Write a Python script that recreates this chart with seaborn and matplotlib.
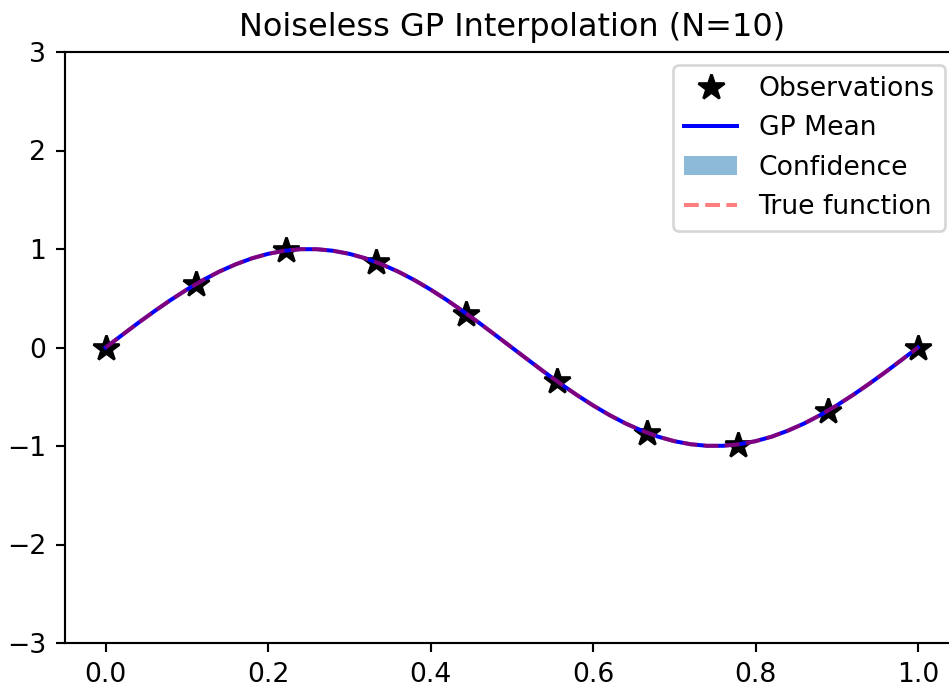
import matplotlib
matplotlib.use("Agg")
import matplotlib.pyplot as plt
import seaborn as sns

# observations (N=10)
obs_x = [0.0, 0.111, 0.222, 0.333, 0.444, 0.556, 0.667, 0.778, 0.889, 1.0]
obs_y = [0.0, 0.643, 0.985, 0.866, 0.342, -0.342, -0.866, -0.985, -0.643, 0.0]

# curve read at x step 0.02
curve_x = [round(0.02 * i, 2) for i in range(51)]
true_y = [0.0, 0.125, 0.249, 0.368, 0.482, 0.588, 0.685, 0.771, 0.844, 0.905,
          0.951, 0.982, 0.998, 0.998, 0.982, 0.951, 0.905, 0.844, 0.771, 0.685,
          0.588, 0.482, 0.368, 0.249, 0.125, 0.0, -0.125, -0.249, -0.368, -0.482,
          -0.588, -0.685, -0.771, -0.844, -0.905, -0.951, -0.982, -0.998, -0.998,
          -0.982, -0.951, -0.905, -0.844, -0.771, -0.685, -0.588, -0.482, -0.368,
          -0.249, -0.125, 0.0]
gp_mean = list(true_y)
conf_lower = list(gp_mean)
conf_upper = list(gp_mean)

DPI = 192
fig, ax = plt.subplots(figsize=(949 / DPI, 688 / DPI), dpi=DPI)
# right spine sits just past the image edge in the reference
fig.subplots_adjust(left=65 / 949, right=958.6 / 949, bottom=1 - 643 / 688, top=1 - 52 / 688)

ax.plot(obs_x, obs_y, "k*", markersize=10, label="Observations", zorder=1.5)
sns.lineplot(x=curve_x, y=gp_mean, color="blue", linewidth=1.5, label="GP Mean", ax=ax, zorder=2)
ax.fill_between(curve_x, conf_lower, conf_upper, color="tab:blue", alpha=0.5,
                linewidth=0, label="Confidence")
sns.lineplot(x=curve_x, y=true_y, color="red", alpha=0.5, linewidth=1.5,
             linestyle="--", label="True function", ax=ax, zorder=2.1)

ax.set_ylim(-3, 3)
ax.set_title("Noiseless GP Interpolation (N=10)")
ax.legend(loc="upper right")

fig.savefig("out.png", dpi=DPI)
